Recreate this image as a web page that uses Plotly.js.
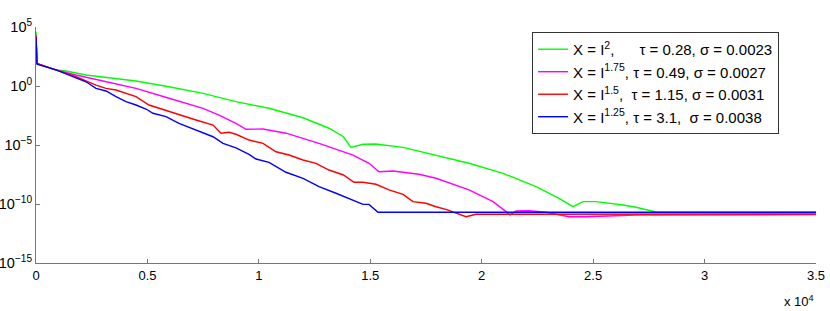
<!DOCTYPE html>
<html>
<head>
<meta charset="utf-8">
<script src="https://cdn.plot.ly/plotly-3.0.1.min.js"></script>
<style>
  html, body { margin: 0; padding: 0; background: #fff; }
  #grafico { width: 830px; height: 311px; }
</style>
</head>
<body>
<div id="grafico"></div>
<script>
// --- dados (y guardado como log10 do valor) ---

const nomes = [
  "X = I<sup>2</sup>,\u00a0\u00a0\u00a0\u00a0\u00a0 τ = 0.28, σ = 0.0023",
  "X = I<sup>1.75</sup>, τ = 0.49, σ = 0.0027",
  "X = I<sup>1.5</sup>,\u00a0 τ = 1.15, σ = 0.0031",
  "X = I<sup>1.25</sup>, τ = 3.1,\u00a0 σ = 0.0038",
];
const cores = ["#00ff00", "#ff00ff", "#ff0000", "#0000ff"];

const xVerde = [0, 45, 897, 1346, 2244, 3590, 4487, 5968, 7494, 8974, 10455, 11981, 13147, 13795, 14135, 14673, 15256, 16468, 17949, 19430, 20955, 22436, 23468, 24096, 24545, 25128, 26340, 26923, 27865, 35000];
const logVerde = [4.6, 1.9, 1.36, 1.27, 0.93, 0.65, 0.42, -0.06, -0.62, -1.33, -1.89, -2.69, -3.58, -4.3, -5.2, -4.94, -4.92, -5.2, -5.85, -6.55, -7.4, -8.53, -9.52, -10.23, -9.8, -9.8, -10.08, -10.28, -10.7, -10.7];

const xMagenta = [0, 45, 897, 1795, 3006, 4487, 5968, 7494, 8212, 8974, 9423, 10186, 11218, 12699, 14224, 14942, 15391, 16019, 17186, 17949, 19430, 20506, 21090, 21269, 21538, 22122, 22885, 23917, 24679, 26923, 35000];
const logMagenta = [4.3, 1.9, 1.36, 0.93, 0.42, -0.2, -1.04, -1.89, -2.46, -3.16, -3.67, -3.64, -4.0, -4.86, -5.85, -6.55, -7.26, -7.2, -7.48, -7.82, -8.81, -9.8, -10.65, -10.93, -10.59, -10.57, -10.7, -11.08, -11.08, -10.93, -10.9];

const xVermelho = [0, 45, 449, 897, 1795, 2692, 3141, 3590, 4038, 4487, 5071, 5519, 5968, 6417, 7179, 7942, 8301, 8660, 8974, 9558, 10186, 10769, 11353, 11981, 12564, 13147, 13795, 14269, 14673, 15256, 15840, 16468, 16917, 17500, 17949, 18397, 18846, 19295, 19744, 35000];
const logVermelho = [4.3, 1.92, 1.64, 1.36, 0.79, 0.08, -0.2, -0.34, -0.62, -0.9, -1.61, -1.89, -2.18, -2.46, -2.88, -3.31, -4.0, -3.92, -4.09, -4.58, -4.86, -5.57, -5.85, -6.27, -6.55, -7.12, -7.54, -8.16, -8.16, -8.33, -8.81, -9.18, -9.8, -9.94, -10.23, -10.45, -10.79, -11.08, -10.87, -10.85];

const xAzul = [0, 45, 897, 1481, 2244, 2692, 3141, 3590, 4038, 4487, 4936, 5250, 5833, 6417, 7179, 7942, 8391, 8974, 9558, 9872, 10455, 11218, 11981, 12699, 13462, 14224, 14673, 14942, 15346, 35000];
const logAzul = [4.15, 1.84, 1.36, 0.93, 0.36, -0.2, -0.42, -0.9, -1.33, -1.61, -1.95, -2.31, -2.6, -3.16, -3.73, -4.3, -4.86, -5.25, -5.79, -6.19, -6.47, -7.31, -7.82, -8.53, -9.09, -9.66, -10.03, -10.03, -10.7, -10.7];

const xTicks = [0, 5000, 10000, 15000, 20000, 25000, 30000, 35000];
const xTickText = ["0", "0.5", "1", "1.5", "2", "2.5", "3", "3.5"];
const yTicks = [1e-15, 1e-10, 1e-5, 1, 1e5];
const yTickText = ["10<sup>−15</sup>", "10<sup>−10</sup>", "10<sup>−5</sup>", "10<sup>0</sup>", "10<sup>5</sup>"];

const series = [
  [xVerde, logVerde],
  [xMagenta, logMagenta],
  [xVermelho, logVermelho],
  [xAzul, logAzul],
];

const traces = series.map(([xs, logs], i) => ({
  x: xs,
  y: logs.map((v) => Math.pow(10, v)),
  type: "scatter",
  mode: "lines",
  name: nomes[i],
  line: { color: cores[i], width: 1.4 },
}));

const fonte = { family: "'Liberation Sans', Arial, sans-serif", color: "#000", size: 13 };
const fonteEstreita = { family: "'Liberation Sans Narrow', 'Liberation Sans', Arial, sans-serif", color: "#000", size: 13 };

const layout = {
  width: 830,
  height: 311,
  paper_bgcolor: "#fff",
  plot_bgcolor: "#fff",
  font: fonte,
  showlegend: true,
  margin: { l: 36, r: 14, t: 27, b: 48 },
  xaxis: {
    range: [0, 35000],
    tickvals: xTicks,
    ticktext: xTickText,
    showgrid: false,
    zeroline: false,
    showline: true,
    linecolor: "#777",
    linewidth: 1,
    ticks: "inside",
    ticklen: 4,
    tickcolor: "#777",
    tickfont: fonteEstreita,
  },
  yaxis: {
    type: "log",
    range: [-15, 5],
    tickvals: yTicks,
    ticktext: yTickText,
    showgrid: false,
    zeroline: false,
    showline: true,
    linecolor: "#777",
    linewidth: 1,
    ticks: "inside",
    ticklen: 4,
    tickcolor: "#777",
    tickfont: { size: 14.5 },
  },
  legend: {
    x: 0.636,
    y: 0.979,
    xanchor: "left",
    yanchor: "top",
    bgcolor: "#fff",
    bordercolor: "#333",
    borderwidth: 1,
    font: { size: 15 },
    tracegroupgap: 0,
  },
  annotations: [
    {
      text: "x 10<sup>4</sup>",
      xref: "paper",
      yref: "paper",
      x: 1.0,
      y: -0.12,
      xanchor: "right",
      yanchor: "top",
      showarrow: false,
      font: fonteEstreita,
    },
  ],
};

Plotly.newPlot("grafico", traces, layout, { displayModeBar: false, staticPlot: true });
</script>
</body>
</html>
